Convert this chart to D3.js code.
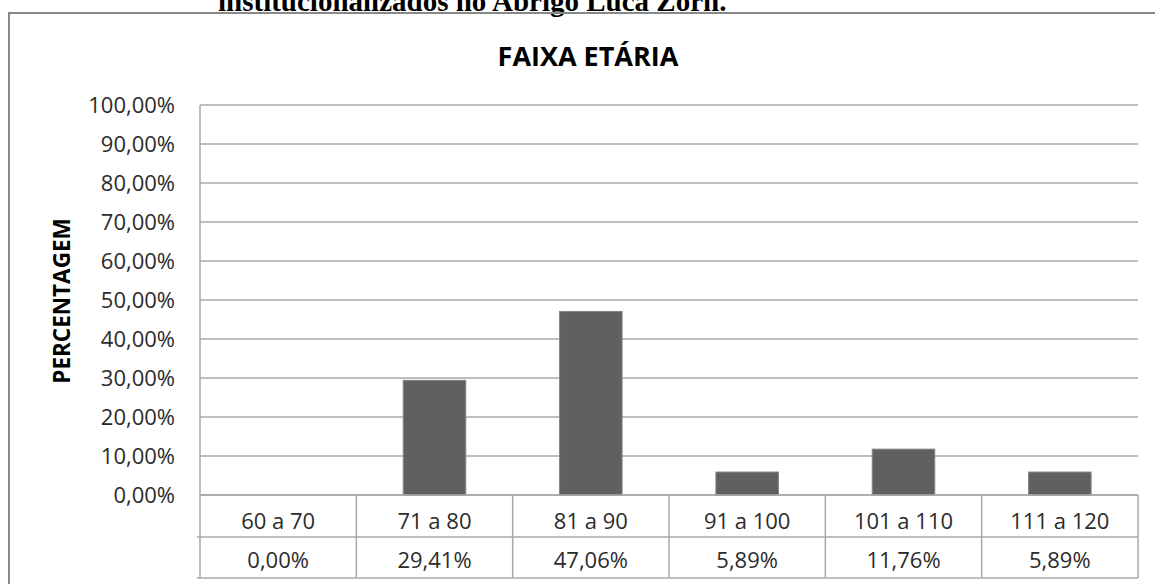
<!DOCTYPE html>
<html><head><meta charset="utf-8">
<script src="https://cdn.jsdelivr.net/npm/d3@7"></script>
<style>body{margin:0;background:#fff}svg{display:block}</style>
</head><body>
<svg id="c" width="1155" height="584"></svg>
<script>
const categories = ["60 a 70","71 a 80","81 a 90","91 a 100","101 a 110","111 a 120"];
const values = [0, 29.41, 47.06, 5.89, 11.76, 5.89];
const valueLabels = ["0,00%","29,41%","47,06%","5,89%","11,76%","5,89%"];
const yTicks = [0,10,20,30,40,50,60,70,80,90,100];
const title = "FAIXA ETÁRIA";
const yTitle = "PERCENTAGEM";
const caption = "institucionalizados no Abrigo Luca Zorn.";

const svg = d3.select("#c");
const L = 200, R = 1138, T = 105, B = 495, row1 = 537, row2 = 578;
const x = d3.scaleBand().domain(categories).range([L, R]).padding(0);
const y = d3.scaleLinear().domain([0, 100]).range([B, T]);
const fmt = v => v.toFixed(2).replace(".", ",") + "%";
const font = "'Open Sans', sans-serif";

// caption cut at top
svg.append("text").attr("x", 218).attr("y", 11)
  .attr("font-family", "'Liberation Serif', serif").attr("font-weight", "bold")
  .attr("font-size", 29).attr("fill", "#000").text(caption);

// outer frame
svg.append("path").attr("d", `M9,600 L9,13 L1170,13`)
  .attr("fill", "none").attr("stroke", "#888").attr("stroke-width", 2);

// title
svg.append("text").attr("x", 588).attr("y", 66).attr("text-anchor", "middle")
  .attr("font-family", font).attr("font-weight", "bold").attr("font-size", 27)
  .attr("fill", "#000").text(title);

// y title
svg.append("text").attr("transform", "translate(70,301) rotate(-90)")
  .attr("text-anchor", "middle").attr("font-family", font).attr("font-weight", "bold")
  .attr("font-size", 22.5).attr("fill", "#000").text(yTitle);

// gridlines
svg.append("g").selectAll("line").data(yTicks).join("line")
  .attr("x1", L).attr("x2", R).attr("y1", d => y(d)).attr("y2", d => y(d))
  .attr("stroke", "#a8a8a8").attr("stroke-width", 1.5);

// y axis labels
const yAxis = d3.axisLeft(y).tickValues(yTicks).tickSize(0).tickPadding(25).tickFormat(fmt);
const ga = svg.append("g").attr("transform", `translate(${L},0)`).call(yAxis);
ga.select(".domain").remove();
ga.selectAll("text").attr("font-family", font).attr("font-size", 22).attr("fill", "#2b2b2b").attr("dy", "0.35em");

// bars
const bw = x.bandwidth() * 0.4;
svg.append("g").selectAll("rect").data(values).join("rect")
  .attr("x", (d, i) => x(categories[i]) + (x.bandwidth() - bw) / 2)
  .attr("width", bw)
  .attr("y", d => y(d)).attr("height", d => B - y(d))
  .attr("fill", "#606060").attr("stroke", d => d > 0 ? "#858585" : "none").attr("stroke-width", 1);

// table lines
const tg = svg.append("g").attr("stroke", "#a8a8a8").attr("stroke-width", 1.5);
tg.append("line").attr("x1", L).attr("x2", L).attr("y1", T).attr("y2", row2);
tg.append("line").attr("x1", L).attr("x2", R).attr("y1", B).attr("y2", B);
tg.append("line").attr("x1", L - 3).attr("x2", R).attr("y1", row1).attr("y2", row1);
tg.append("line").attr("x1", L - 3).attr("x2", R).attr("y1", row2).attr("y2", row2);
tg.selectAll(".v").data(categories).join("line").attr("class", "v")
  .attr("x1", d => x(d) + x.bandwidth()).attr("x2", d => x(d) + x.bandwidth())
  .attr("y1", B).attr("y2", row2);

// table text
svg.append("g").selectAll("text").data(categories).join("text")
  .attr("x", d => x(d) + x.bandwidth() / 2).attr("y", 529).attr("text-anchor", "middle")
  .attr("font-family", font).attr("font-size", 22).attr("fill", "#2b2b2b").text(d => d);
svg.append("g").selectAll("text").data(valueLabels).join("text")
  .attr("x", (d, i) => x(categories[i]) + x.bandwidth() / 2).attr("y", 568).attr("text-anchor", "middle")
  .attr("font-family", font).attr("font-size", 22).attr("fill", "#2b2b2b").text(d => d);
</script>
</body></html>
